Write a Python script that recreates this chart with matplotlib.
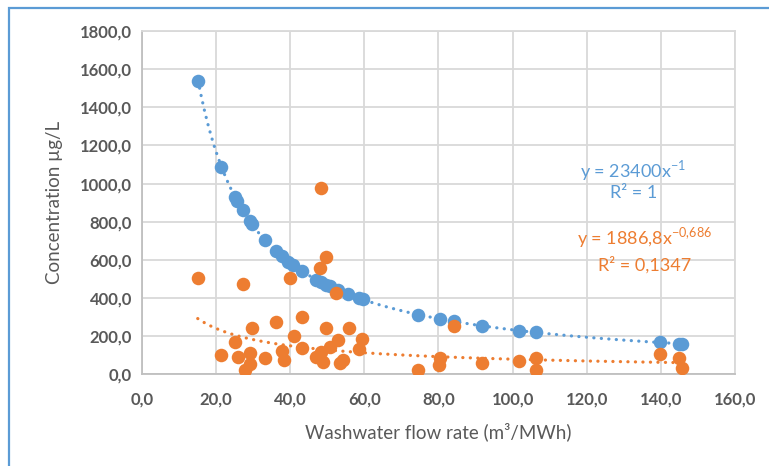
import numpy as np
import matplotlib.pyplot as plt
from matplotlib.patches import Rectangle

plt.rcParams['font.family'] = ['Lato', 'DejaVu Sans']

# washwater flow rate (m3/MWh) and concentration (ug/L), series 1
blue_x = [15.2, 21.5, 25.1, 25.8, 27.2, 29.1, 29.6, 33.2, 36.3, 37.7,
          39.5, 40.8, 43.1, 47.1, 48.4, 49.8, 50.7, 52.9, 55.6, 58.7,
          59.6, 74.6, 80.3, 84.3, 91.8, 101.6, 106.3, 139.7, 144.9, 145.7]
blue_y = [1540, 1088, 932, 907, 860, 804, 791, 705, 645, 621,
          592, 574, 543, 497, 483, 470, 462, 442, 421, 399,
          393, 314, 291, 278, 255, 230, 220, 168, 162, 161]

# series 2
orange_x = [15.1, 27.3, 39.9, 48.0, 48.4, 49.8, 52.5, 43.1, 36.3, 29.6,
            49.8, 55.9, 41.0, 25.1, 52.9, 59.5, 58.7, 50.7, 21.5, 26.0,
            29.1, 33.2, 37.7, 38.3, 43.3, 47.1, 48.4, 48.9, 53.4, 54.3,
            29.3, 27.8, 74.6, 80.3, 80.1, 84.3, 91.8, 101.6, 106.3, 106.3,
            139.7, 144.9, 145.7]
orange_y = [507, 474, 507, 556, 975, 614, 425, 303, 276, 242,
            242, 242, 202, 172, 181, 184, 132, 146, 102, 93,
            114, 88, 125, 76, 137, 90, 119, 67, 59, 76,
            55, 24, 24, 85, 50, 254, 62, 72, 85, 24,
            106, 85, 32]

# power-law trendline coefficients
blue_a, blue_b = 23400, -1.0
orange_a, orange_b = 1886.8, -0.686

x_ticks = np.arange(0, 161, 20)
y_ticks = np.arange(0, 1801, 200)

BLUE = '#5B9BD5'
ORANGE = '#ED7D31'
GREY = '#595959'

fig = plt.figure(figsize=(7.69, 4.66), dpi=100)
ax = fig.add_axes([0.1843, 0.1964, 0.7717, 0.7371])

# chart frame (only top and left edges are in view)
fig.patches.append(Rectangle((9 / 769, -0.1), 1.2, 1.1 - 8 / 466, transform=fig.transFigure,
                             fill=False, edgecolor=BLUE, linewidth=1.6, zorder=0))

dots = (0, (0.05, 2.3))
xs = np.linspace(min(blue_x), max(blue_x), 300)
ax.plot(xs, blue_a * xs ** blue_b, color=BLUE, linewidth=2.3,
        linestyle=dots, dash_capstyle='round', zorder=3)
xs = np.linspace(min(orange_x), max(orange_x), 300)
ax.plot(xs, orange_a * xs ** orange_b, color=ORANGE, linewidth=2.3,
        linestyle=dots, dash_capstyle='round', zorder=3)

ax.scatter(blue_x, blue_y, s=95, color=BLUE, linewidths=0, zorder=4)
ax.scatter(orange_x, orange_y, s=95, color=ORANGE, linewidths=0, zorder=5)

ax.set_xlim(0, 160)
ax.set_ylim(0, 1800)
ax.set_xticks(x_ticks)
ax.set_yticks(y_ticks)
ax.set_xticklabels([f'{v:.1f}'.replace('.', ',') for v in x_ticks])
ax.set_yticklabels([f'{v:.1f}'.replace('.', ',') for v in y_ticks])
ax.tick_params(length=0, labelsize=12, labelcolor=GREY)
ax.tick_params(axis='x', pad=12)
ax.tick_params(axis='y', pad=7)
for lbl in ax.get_xticklabels() + ax.get_yticklabels():
    lbl.set_fontweight('bold')

ax.grid(True, color='#D9D9D9', linewidth=1.3)
ax.set_axisbelow(True)
for side in ['top', 'right']:
    ax.spines[side].set_color('#D9D9D9')
    ax.spines[side].set_linewidth(1.3)
for side in ['left', 'bottom']:
    ax.spines[side].set_color('#BFBFBF')
    ax.spines[side].set_linewidth(1.3)

ax.set_xlabel('Washwater flow rate (m³/MWh)', fontsize=13.5,
              color=GREY, labelpad=11)
ax.set_ylabel('Concentration µg/L', fontsize=13.5, color=GREY, labelpad=12)

# trendline equations
ax.text(132.5, 1070, 'y = 23400x$^{\\mathregular{-1}}$', color=BLUE, fontsize=13,
        ha='center', va='center')
ax.text(132.5, 950, 'R² = 1', color=BLUE, fontsize=13,
        ha='center', va='center')
ax.text(135.5, 715, 'y = 1886,8x$^{\\mathregular{-0{,}686}}$', color=ORANGE, fontsize=13,
        ha='center', va='center')
ax.text(135.5, 575, 'R² = 0,1347', color=ORANGE, fontsize=13,
        ha='center', va='center')

fig.savefig('out.png', dpi=100)
